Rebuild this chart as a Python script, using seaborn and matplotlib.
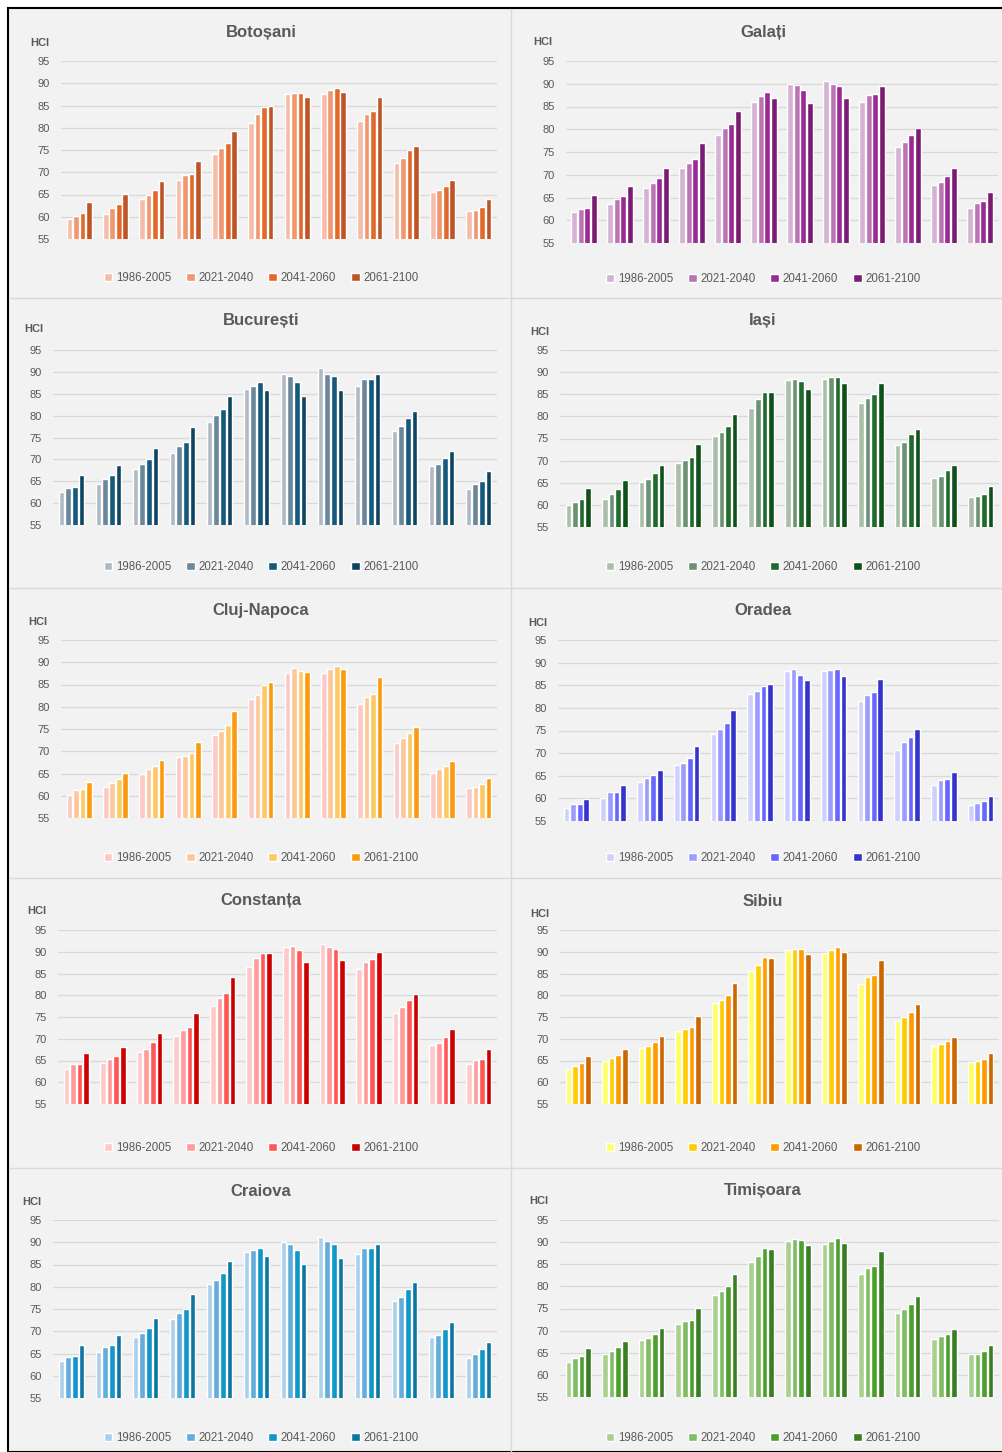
import pandas as pd
import seaborn as sns
import matplotlib.pyplot as plt
from matplotlib.patches import Rectangle
from matplotlib.lines import Line2D

# Data (HCI per month, four periods)
months = ["Jan", "Feb", "Mar", "Apr", "May", "Jun", "Jul", "Aug", "Sep", "Oct", "Nov", "Dec"]
periods = ["1986-2005", "2021-2040", "2041-2060", "2061-2100"]

botosani = [
    [59.5, 60.6, 64.1, 68.2, 74.1, 81.1, 87.6, 87.6, 81.5, 72.1, 65.6, 61.3],
    [60.2, 61.9, 64.9, 69.4, 75.4, 83.2, 87.9, 88.4, 83.0, 73.1, 66.1, 61.6],
    [60.9, 62.9, 66.1, 69.7, 76.5, 84.7, 87.8, 89.0, 83.7, 75.0, 67.0, 62.1],
    [63.4, 65.1, 68.0, 72.6, 79.3, 85.0, 86.8, 88.0, 86.8, 76.0, 68.2, 64.0],
]
galati = [
    [61.8, 63.5, 67.1, 71.4, 78.7, 85.9, 90.0, 90.6, 86.0, 76.2, 67.8, 62.8],
    [62.5, 64.6, 68.1, 72.6, 80.3, 87.3, 89.8, 90.0, 87.5, 77.2, 68.3, 63.7],
    [62.7, 65.4, 69.2, 73.5, 81.2, 88.1, 88.7, 89.6, 87.8, 78.8, 69.7, 64.2],
    [65.5, 67.5, 71.4, 76.9, 84.1, 86.9, 85.7, 86.8, 89.4, 80.2, 71.4, 66.1],
]
bucuresti = [
    [62.5, 64.3, 67.9, 71.5, 78.6, 86.0, 89.5, 90.8, 86.7, 76.6, 68.4, 63.3],
    [63.5, 65.6, 68.9, 73.1, 80.2, 86.8, 89.1, 89.6, 88.3, 77.6, 68.9, 64.3],
    [63.7, 66.5, 70.0, 74.0, 81.6, 87.6, 87.6, 89.0, 88.3, 79.4, 70.4, 65.1],
    [66.5, 68.8, 72.6, 77.3, 84.5, 85.9, 84.4, 85.9, 89.5, 81.0, 71.9, 67.3],
]
iasi = [
    [60.0, 61.4, 65.2, 69.4, 75.5, 82.0, 88.2, 88.5, 83.0, 73.6, 66.1, 61.8],
    [60.7, 62.5, 65.9, 70.1, 76.4, 83.9, 88.4, 89.0, 84.2, 74.2, 66.6, 62.1],
    [61.3, 63.6, 67.1, 70.8, 77.8, 85.4, 87.9, 89.0, 85.0, 76.0, 67.8, 62.5],
    [63.8, 65.6, 69.1, 73.8, 80.6, 85.4, 86.2, 87.5, 87.6, 77.1, 69.0, 64.3],
]
cluj = [
    [60.2, 62.0, 64.9, 68.7, 73.7, 81.8, 87.6, 87.6, 80.7, 71.8, 65.2, 61.7],
    [61.3, 62.9, 65.9, 68.9, 74.6, 82.6, 88.7, 88.4, 82.3, 73.0, 66.0, 62.0],
    [61.6, 63.7, 66.7, 69.6, 75.9, 85.0, 88.1, 89.1, 82.8, 74.1, 66.6, 62.6],
    [63.0, 65.2, 68.0, 72.1, 79.0, 85.6, 87.7, 88.5, 86.6, 75.5, 67.7, 63.9],
]
oradea = [
    [57.9, 60.1, 63.6, 67.3, 74.2, 83.0, 88.1, 88.1, 81.6, 70.7, 62.9, 58.6],
    [58.8, 61.3, 64.4, 67.8, 75.4, 83.8, 88.5, 88.3, 82.8, 72.5, 64.0, 59.0],
    [58.8, 61.3, 65.1, 69.0, 76.6, 84.9, 87.3, 88.5, 83.5, 73.6, 64.2, 59.4],
    [59.9, 63.0, 66.3, 71.5, 79.5, 85.2, 86.1, 87.0, 86.3, 75.4, 65.8, 60.5],
]
constanta = [
    [63.1, 64.4, 67.0, 70.7, 77.6, 86.4, 91.2, 91.7, 86.1, 76.0, 68.6, 64.1],
    [64.1, 65.4, 67.6, 72.0, 79.3, 88.5, 91.3, 91.1, 87.6, 77.2, 69.1, 65.1],
    [64.1, 66.1, 69.2, 72.7, 80.6, 89.6, 90.5, 90.7, 88.3, 78.8, 70.3, 65.3],
    [66.8, 68.1, 71.3, 76.0, 84.3, 89.6, 87.6, 88.0, 90.0, 80.4, 72.2, 67.6],
]
sibiu = [
    [63.1, 64.8, 67.9, 71.7, 78.2, 85.6, 90.5, 89.7, 82.7, 74.0, 68.4, 64.7],
    [63.8, 65.6, 68.4, 72.3, 79.0, 87.0, 90.6, 90.5, 84.3, 75.0, 68.7, 64.8],
    [64.4, 66.2, 69.2, 72.6, 80.1, 88.7, 90.6, 91.1, 84.7, 76.1, 69.4, 65.4],
    [66.1, 67.7, 70.7, 75.3, 82.9, 88.5, 89.4, 90.0, 88.0, 77.9, 70.5, 66.8],
]
craiova = [
    [63.3, 65.3, 68.7, 72.7, 80.7, 87.7, 90.1, 91.1, 87.4, 76.8, 68.8, 64.0],
    [64.3, 66.5, 69.6, 74.1, 81.6, 88.3, 89.7, 90.3, 88.6, 77.7, 69.1, 64.9],
    [64.4, 67.0, 70.8, 75.0, 83.0, 88.6, 88.3, 89.7, 88.7, 79.5, 70.4, 65.9],
    [67.0, 69.2, 73.0, 78.3, 85.8, 87.0, 85.1, 86.4, 89.6, 81.0, 72.0, 67.6],
]
timisoara = [
    [63.0, 64.7, 67.9, 71.6, 78.1, 85.5, 90.3, 89.6, 82.7, 74.0, 68.2, 64.7],
    [63.8, 65.5, 68.4, 72.2, 79.0, 86.9, 90.6, 90.2, 84.2, 74.9, 68.7, 64.7],
    [64.3, 66.3, 69.2, 72.5, 80.1, 88.7, 90.5, 91.0, 84.7, 76.1, 69.3, 65.4],
    [66.0, 67.7, 70.7, 75.2, 82.8, 88.5, 89.3, 89.9, 88.0, 77.8, 70.4, 66.8],
]

cities = ["Botoșani", "Galați", "București", "Iași", "Cluj-Napoca",
          "Oradea", "Constanța", "Sibiu", "Craiova", "Timișoara"]
city_values = [botosani, galati, bucuresti, iasi, cluj,
               oradea, constanta, sibiu, craiova, timisoara]
city_colors = [
    ["#f5bda9", "#f0976f", "#e2692c", "#bd5527"],
    ["#d5b1d3", "#b874b3", "#9b2b93", "#7a1c72"],
    ["#afbac5", "#6b879c", "#165a7b", "#0f4460"],
    ["#aabfa8", "#6b9373", "#1f6b2b", "#105119"],
    ["#fdc9c7", "#fdc797", "#fdc866", "#fb9a0e"],
    ["#d0d0ff", "#9c9cff", "#6767ff", "#3434cc"],
    ["#ffc9c9", "#ff9b9b", "#ff5656", "#cc0000"],
    ["#ffff66", "#ffcc00", "#ff9a00", "#cc6600"],
    ["#aad0eb", "#63addd", "#1196c9", "#0c75a1"],
    ["#a9d18e", "#80bc63", "#4d9f2c", "#3b7d23"],
]

# layout in pixels: (plot left, plot right, plot top, plot bottom, title y, legend y, hci x, hci y)
W, H = 1003, 1452
boxes = [
    (61, 497, 61, 239, 32, 278, 40, 43),
    (566, 998, 61, 243, 32, 279, 543, 42),
    (53, 497, 350, 525, 321, 567, 34, 329),
    (560, 999, 350, 527, 321, 567, 540, 332),
    (61, 497, 640, 818, 611, 858, 38, 622),
    (558, 999, 640, 821, 611, 858, 538, 623),
    (58, 497, 930, 1104, 901, 1148, 37, 911),
    (560, 999, 930, 1104, 901, 1148, 540, 914),
    (53, 497, 1220, 1398, 1191, 1438, 32, 1202),
    (560, 999, 1220, 1397, 1191, 1438, 539, 1201),
]
title_x = [261, 763]

sns.set_theme(style="white")
fonts = ["Liberation Sans", "DejaVu Sans"]
plt.rcParams["font.family"] = fonts
txt = "#595959"

fig = plt.figure(figsize=(W / 100, H / 100), dpi=100)
fig.patch.set_facecolor("white")

# panel background + frame
fig.add_artist(Rectangle((8 / W, 0), 1, 1 - 8 / H, transform=fig.transFigure,
                         facecolor="#f2f2f2", edgecolor="black", linewidth=1.5, zorder=-10))
fig.add_artist(Line2D([511 / W, 511 / W], [0, 1 - 9 / H], transform=fig.transFigure,
                      color="#d9d9d9", linewidth=1, zorder=-9))
for yy in [298, 588, 878, 1168]:
    fig.add_artist(Line2D([9 / W, 1], [1 - yy / H, 1 - yy / H], transform=fig.transFigure,
                          color="#d9d9d9", linewidth=1, zorder=-9))

for i, (city, vals, cols, box) in enumerate(zip(cities, city_values, city_colors, boxes)):
    x0, x1, y0, y1, ty, ly, hx, hy = box
    df = pd.DataFrame({
        "month": months * 4,
        "period": [p for p in periods for _ in months],
        "HCI": [v for row in vals for v in row],
    })
    ax = fig.add_axes([x0 / W, 1 - y1 / H, (x1 - x0) / W, (y1 - y0) / H])
    ax.set_facecolor("none")
    sns.barplot(data=df, x="month", y="HCI", hue="period", palette=cols,
                saturation=1, width=0.72, gap=0.14, errorbar=None, ax=ax, zorder=3)
    ax.set_ylim(55, 95)
    ax.set_xlim(-0.5, 11.5)
    ax.set_yticks(range(55, 96, 5))
    ax.set_xticks([])
    ax.set_xlabel("")
    ax.set_ylabel("")
    ax.yaxis.grid(True, color="#d9d9d9", linewidth=0.9)
    ax.set_axisbelow(True)
    for s in ax.spines.values():
        s.set_visible(False)
    ax.tick_params(axis="y", length=0, pad=8, labelsize=8, labelcolor=txt)
    tx = title_x[i % 2]
    leg_x = (tx - x0) / (x1 - x0)
    leg_y = (y1 - ly) / (y1 - y0)
    ax.legend(loc="center", bbox_to_anchor=(leg_x, leg_y), ncol=4, frameon=False,
              fontsize=8.3, labelcolor=txt, handlelength=0.75, handleheight=0.75,
              handletextpad=0.3, columnspacing=1.3, borderaxespad=0)
    fig.text(tx / W, 1 - ty / H, city, ha="center", va="center",
             fontsize=12, fontweight="bold", color=txt, family=fonts)
    fig.text(hx / W, 1 - hy / H, "HCI", ha="center", va="center", fontsize=8,
             fontweight="bold", color=txt, family=fonts)

fig.savefig("out.png", dpi=100, facecolor=fig.get_facecolor())
